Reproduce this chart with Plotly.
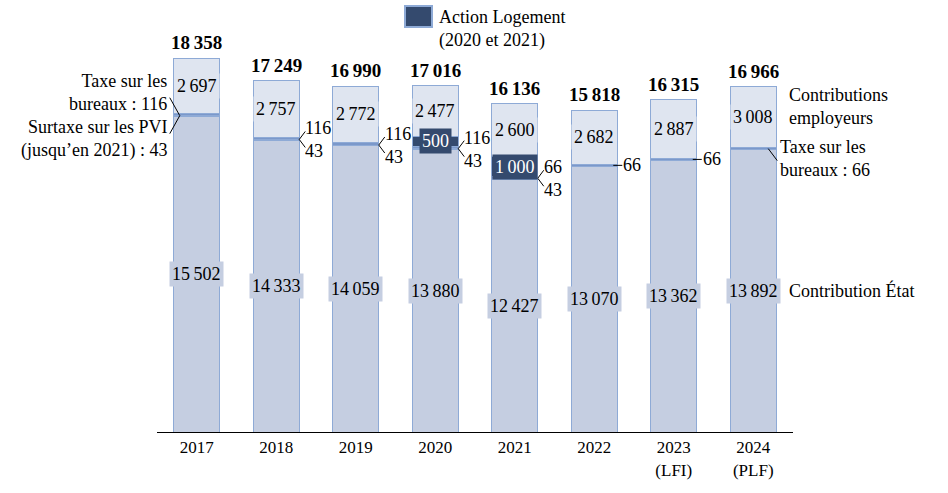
import plotly.graph_objects as go

years = ["2017", "2018", "2019", "2020", "2021", "2022", "2023<br>(LFI)", "2024<br>(PLF)"]
etat = [15502, 14333, 14059, 13880, 12427, 13070, 13362, 13892]
surtaxe_pvi = [43, 43, 43, 43, 43, 0, 0, 0]
taxe_bureaux = [116, 116, 116, 116, 66, 66, 66, 66]
action_logement = [0, 0, 0, 500, 1000, 0, 0, 0]
employeurs = [2697, 2757, 2772, 2477, 2600, 2682, 2887, 3008]
totals = [18358, 17249, 16990, 17016, 16136, 15818, 16315, 16966]

C_ETAT = "#c5cee1"
C_EMP = "#dfe5f0"
C_EDGE = "#8eaad6"
C_THIN = "#7b98ca"
C_AL = "#344a6e"
FONT = "Liberation Serif, Times New Roman, serif"


def tf(size=18, color="black"):
    return dict(family=FONT, size=size, color=color)


def fmt(v):
    return f"{v:,}".replace(",", "\u2009")


def nz(lst):
    return [v if v else None for v in lst]


x = list(range(len(years)))
W = 0.58
HALF = 23  # half bar width in px
TXT = 18
NUM = 18

fig = go.Figure()
for name, vals, col in [
    ("Contribution État", etat, C_ETAT),
    ("Surtaxe sur les PVI", surtaxe_pvi, C_THIN),
    ("Taxe sur les bureaux", taxe_bureaux, C_THIN),
    ("Action Logement (2020 et 2021)", action_logement, C_AL),
    ("Contributions employeurs", employeurs, C_EMP),
]:
    fig.add_trace(go.Bar(
        x=x, y=nz(vals), name=name, width=W,
        marker=dict(color=col, line=dict(color=C_EDGE, width=1)),
        showlegend=False, hoverinfo="skip",
    ))

ann = []
shapes = []

for i in x:
    ann.append(dict(x=i, y=totals[i], text=f"<b>{fmt(totals[i])}</b>", showarrow=False,
                    yanchor="bottom", yshift=3, font=tf(19)))
    ann.append(dict(x=i, y=etat[i] / 2, text=fmt(etat[i]), showarrow=False,
                    bgcolor=C_ETAT, borderpad=2, font=tf(NUM)))
    ann.append(dict(x=i, y=totals[i] - employeurs[i] / 2, text=fmt(employeurs[i]), showarrow=False,
                    bgcolor=C_EMP, borderpad=2, font=tf(NUM)))
    if action_logement[i]:
        ann.append(dict(x=i, y=etat[i] + surtaxe_pvi[i] + taxe_bureaux[i] + action_logement[i] / 2,
                        text=fmt(action_logement[i]), showarrow=False, bgcolor=C_AL, borderpad=2,
                        font=tf(NUM, "white")))


def line(xa, ya, x0, x1, y0, y1):
    shapes.append(dict(type="line", xref="x", yref="y", xsizemode="pixel", ysizemode="pixel",
                       xanchor=xa, yanchor=ya, x0=x0, x1=x1, y0=y0, y1=y1,
                       line=dict(color="black", width=1)))


for i in [1, 2, 3, 4]:
    yb = etat[i] + surtaxe_pvi[i]
    ann.append(dict(x=i, y=yb, text=fmt(taxe_bureaux[i]), showarrow=False, xanchor="left",
                    xshift=HALF + 4, yshift=11, font=tf(NUM)))
    ann.append(dict(x=i, y=yb, text=fmt(surtaxe_pvi[i]), showarrow=False, xanchor="left",
                    xshift=HALF + 4, yshift=-12, font=tf(NUM)))
    line(i, yb, HALF, HALF + 6, 0, 8)
    line(i, yb, HALF, HALF + 6, 0, -8)

yb0 = etat[0] + surtaxe_pvi[0]
ann.append(dict(x=0, y=yb0, text=f"Taxe sur les<br>bureaux\u00a0: {taxe_bureaux[0]}", showarrow=False,
                xanchor="right", align="right", xshift=-28, yshift=23, font=tf(TXT)))
ann.append(dict(x=0, y=yb0, text=f"Surtaxe sur les PVI<br>(jusqu’en 2021)\u00a0: {surtaxe_pvi[0]}",
                showarrow=False, xanchor="right", align="right", xshift=-28, yshift=-23, font=tf(TXT)))
line(0, yb0, -17, -27, 0, 18)
line(0, yb0, -17, -27, 0, -18)

for i in [5, 6]:
    yb = etat[i] + taxe_bureaux[i] / 2
    ann.append(dict(x=i, y=yb, text=fmt(taxe_bureaux[i]), showarrow=False, xanchor="left",
                    xshift=HALF + 4, font=tf(NUM)))
    line(i, yb, HALF - 4, HALF + 5, 0, 0)

yb7 = etat[7] + taxe_bureaux[7] / 2
line(7, yb7, 15, 24, 0, -12)
ann.append(dict(x=7, y=yb7, text=f"Taxe sur les<br>bureaux\u00a0: {taxe_bureaux[7]}", showarrow=False,
                xanchor="left", align="left", xshift=25, yshift=-10, font=tf(TXT)))
ann.append(dict(x=7, y=totals[7] - employeurs[7] / 2, text="Contributions<br>employeurs",
                showarrow=False, xanchor="left", align="left", xshift=34, yshift=11, font=tf(TXT)))
ann.append(dict(x=7, y=etat[7] / 2, text="Contribution État", showarrow=False,
                xanchor="left", align="left", xshift=34, font=tf(TXT)))

L, PW, T, PH = 157, 636, 25, 407


def px(v):
    return (v - L) / PW


def py(v):
    return (T + PH - v) / PH


shapes.append(dict(type="rect", xref="paper", yref="paper", x0=px(405), x1=px(432), y0=py(27), y1=py(6),
                   fillcolor=C_AL, line=dict(color=C_EDGE, width=2)))
ann.append(dict(xref="paper", yref="paper", x=px(437), y=py(29), text="Action Logement<br>(2020 et 2021)",
                showarrow=False, xanchor="left", yanchor="middle", align="left", font=tf(TXT)))

fig.update_layout(
    barmode="stack",
    width=948, height=493,
    margin=dict(l=L, r=948 - L - PW, t=T, b=493 - T - PH),
    plot_bgcolor="white", paper_bgcolor="white",
    font=tf(),
    xaxis=dict(range=[-0.5, 7.5], tickvals=x, ticktext=years, showline=True, linecolor="black",
               linewidth=1, showgrid=False, zeroline=False, ticks="", fixedrange=True,
               tickfont=tf(17)),
    yaxis=dict(range=[0, 20000], visible=False, fixedrange=True),
    annotations=ann, shapes=shapes, showlegend=False,
)

fig.write_html("out.html", config={"displayModeBar": False},
               post_script="document.body.style.margin='0';")
